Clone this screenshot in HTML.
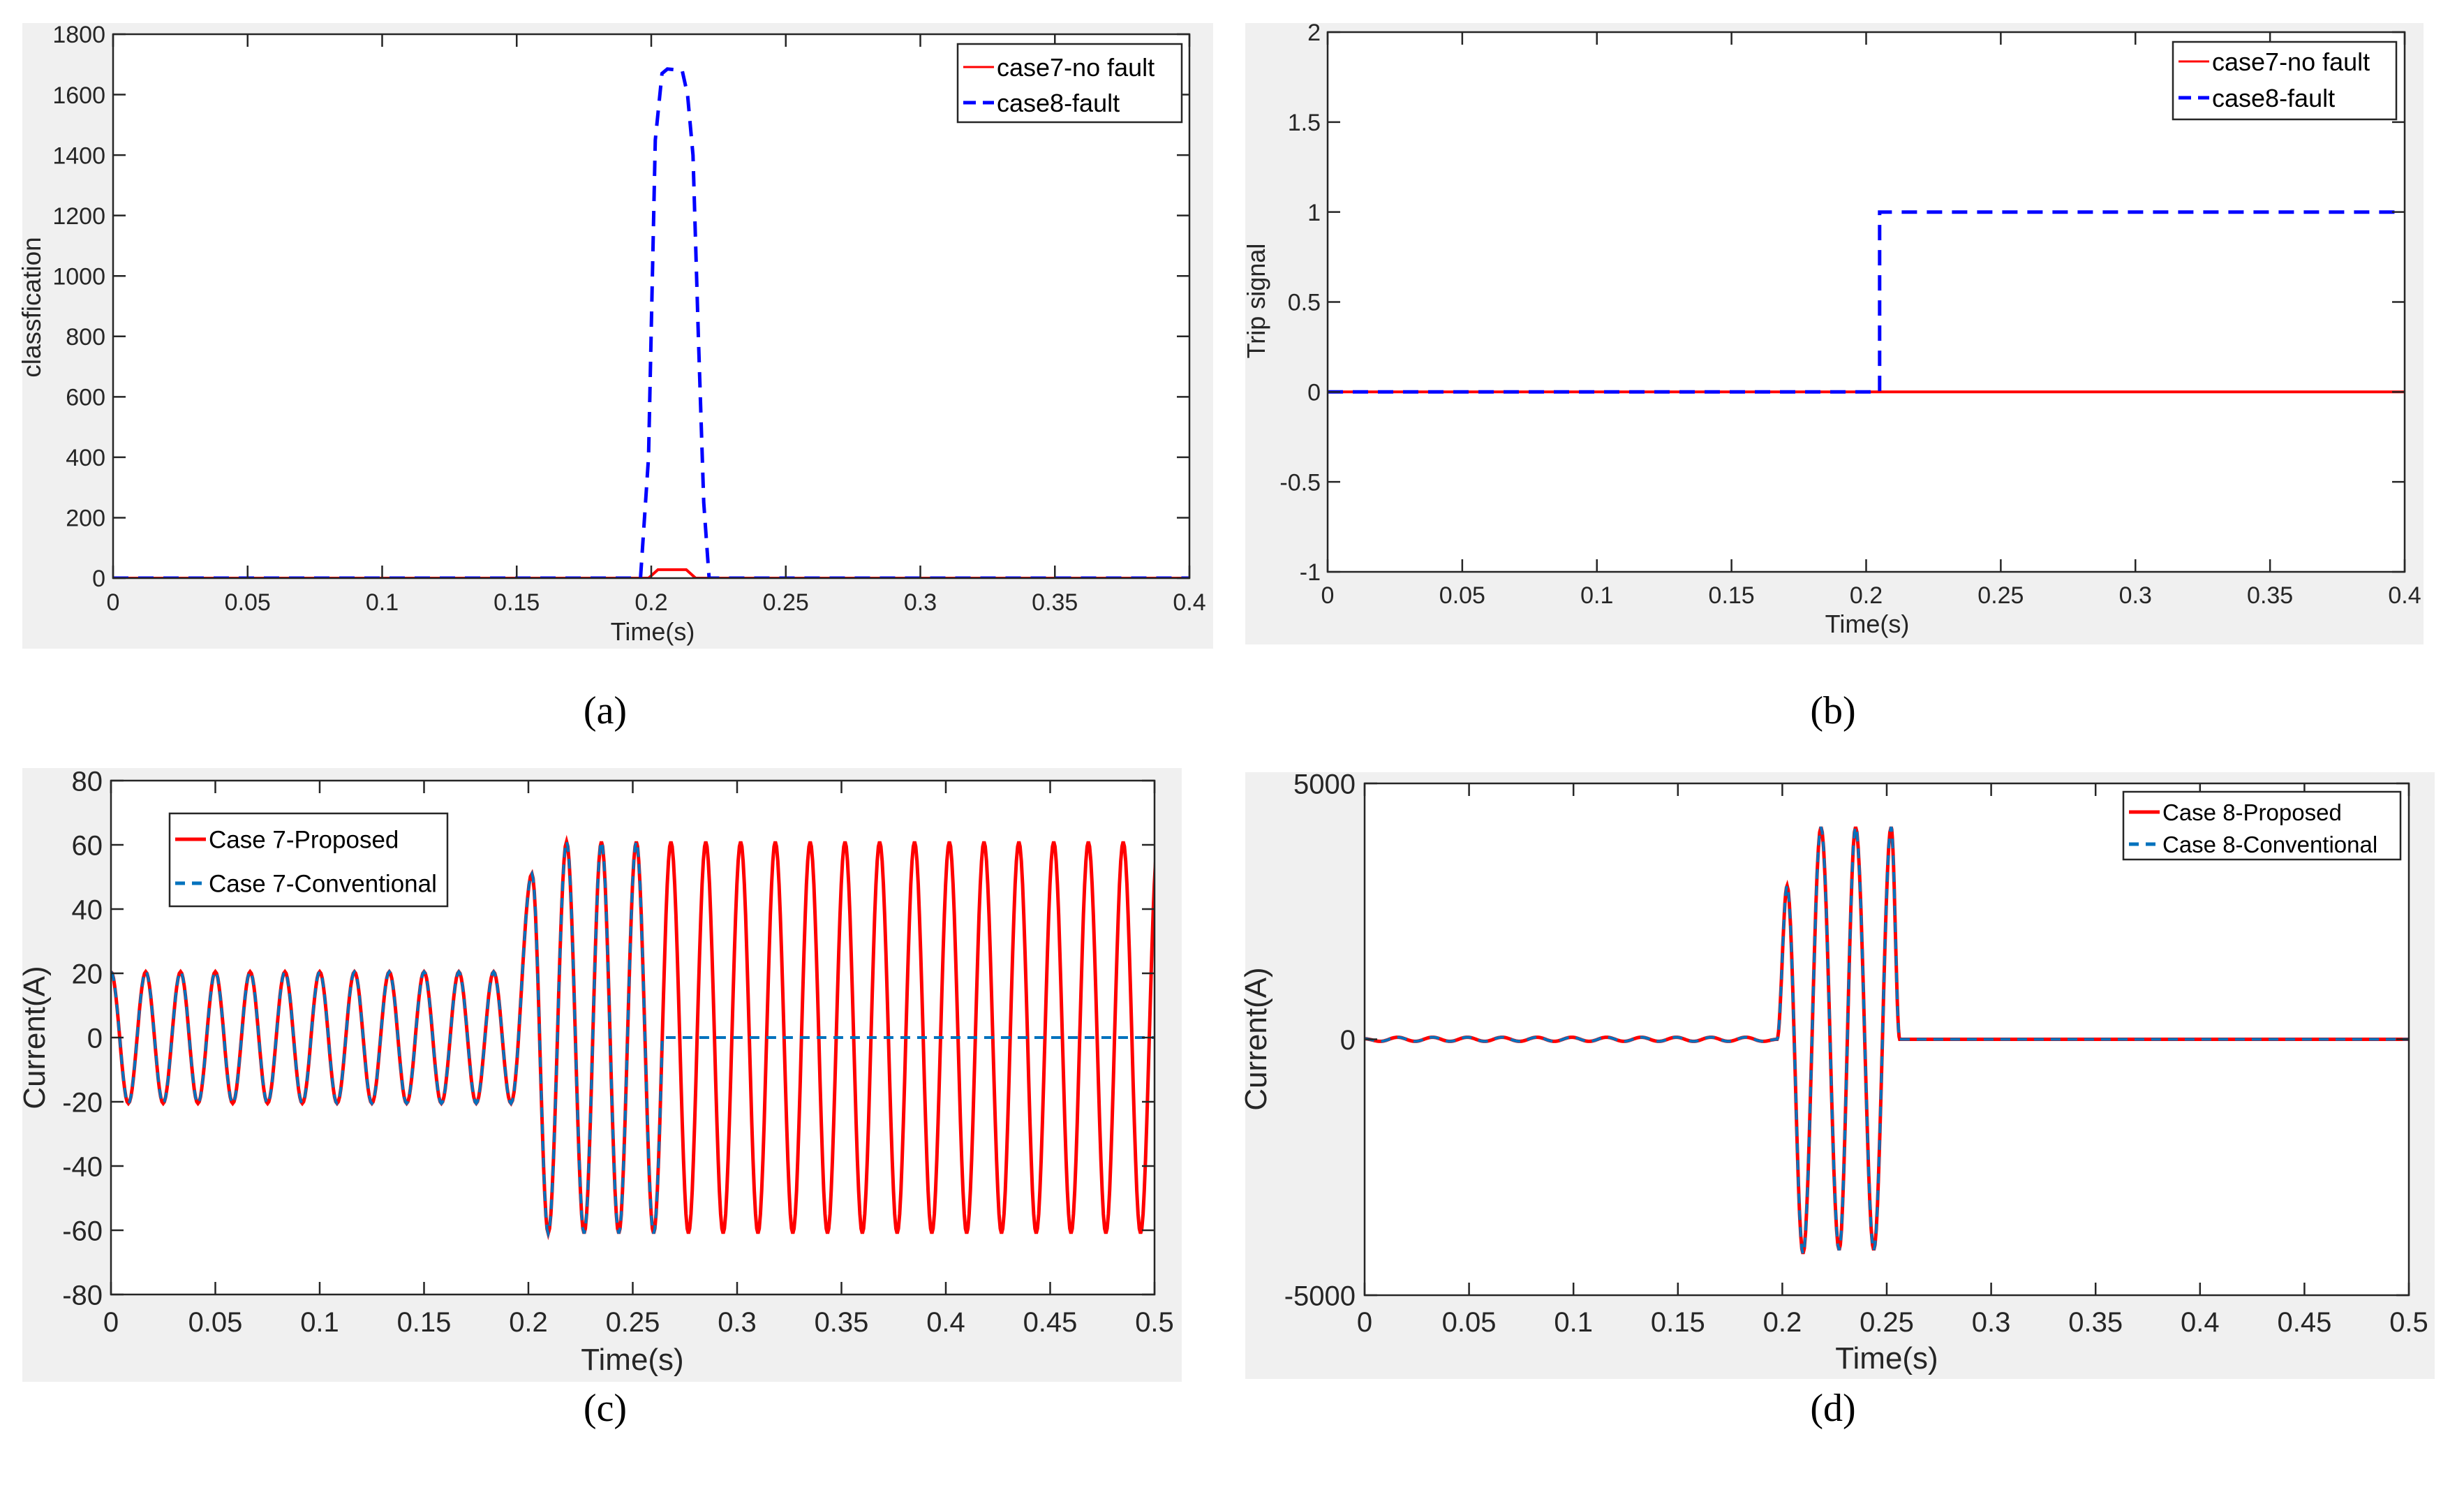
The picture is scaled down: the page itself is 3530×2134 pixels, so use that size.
<!DOCTYPE html>
<html><head><meta charset="utf-8"><style>
html,body{margin:0;padding:0;background:#fff;}
svg{display:block;font-family:"Liberation Sans",Arial,sans-serif;}
</style></head><body>
<svg id="fig" width="3530" height="2134" viewBox="0 0 3530 2134" xmlns="http://www.w3.org/2000/svg">
<rect x="0" y="0" width="3530" height="2134" fill="#fff"/>
<g id="root"></g>
</svg>
<script>
// ---------- Panel (a) data ----------
const aXTicks=[0,0.05,0.1,0.15,0.2,0.25,0.3,0.35,0.4];
const aYTicks=[0,200,400,600,800,1000,1200,1400,1600,1800];
const aRedT=[0,0.199,0.2025,0.213,0.2165,0.4];
const aRedV=[0,0,28,28,0,0];
const aBlueT=[0,0.196,0.199,0.2015,0.204,0.206,0.2115,0.2135,0.2155,0.2175,0.2195,0.2215,0.4];
const aBlueV=[0,0,400,1450,1670,1685,1680,1600,1400,800,250,0,0];
// ---------- Panel (b) data ----------
const bXTicks=[0,0.05,0.1,0.15,0.2,0.25,0.3,0.35,0.4];
const bYTicks=[-1,-0.5,0,0.5,1,1.5,2];
const bRedT=[0,0.4];
const bRedV=[0,0];
const bBlueT=[0,0.205,0.205,0.4];
const bBlueV=[0,0,1,1];
// ---------- Panel (c) data (extrema, joined by half-cosine) ----------
const cXTicks=[0,0.05,0.1,0.15,0.2,0.25,0.3,0.35,0.4,0.45,0.5];
const cYTicks=[-80,-60,-40,-20,0,20,40,60,80];
const cExtT=[0,0.00833,0.01667,0.025,0.03333,0.04167,0.05,0.05833,0.06667,0.075,0.08333,0.09167,0.1,0.10833,0.11667,0.125,0.13333,0.14167,0.15,0.15833,0.16667,0.175,0.18333,0.19167,
0.2017,0.2095,
0.2183,0.2267,0.235,0.2433,0.2517,0.26,0.2683,0.2767,0.285,0.2933,0.3017,0.31,0.3183,0.3267,0.335,0.3433,0.3517,0.36,0.3683,0.3767,0.385,0.3933,0.4017,0.41,0.4183,0.4267,0.435,0.4433,0.4517,0.46,0.4683,0.4767,0.485,0.4933,0.5017];
const cExtV=[20.5,-20.5,20.5,-20.5,20.5,-20.5,20.5,-20.5,20.5,-20.5,20.5,-20.5,20.5,-20.5,20.5,-20.5,20.5,-20.5,20.5,-20.5,20.5,-20.5,20.5,-20.5,
51,-61,
61,-61,61,-61,61,-61,61,-61,61,-61,61,-61,61,-61,61,-61,61,-61,61,-61,61,-61,61,-61,61,-61,61,-61,61,-61,61,-61,61,-61,61,-61,61];
const cBlueCut=0.2642;
// ---------- Panel (d) data ----------
const dXTicks=[0,0.05,0.1,0.15,0.2,0.25,0.3,0.35,0.4,0.45,0.5];
const dYTicks=[-5000,0,5000];
const dExtT=[0,0.0075,0.0158,0.0242,0.0325,0.0408,0.0492,0.0575,0.0658,0.0742,0.0825,0.0908,0.0992,0.1075,0.1158,0.1242,0.1325,0.1408,0.1492,0.1575,0.1658,0.1742,0.1825,0.1908,0.1975,
0.2023,0.2099,0.2185,0.2272,0.2351,0.2438,0.2521,0.2562,0.5];
const dExtV=[10,-40,40,-40,40,-40,40,-40,40,-40,40,-40,40,-40,40,-40,40,-40,40,-40,40,-40,40,-40,0,
3000,-4190,4150,-4120,4150,-4120,4150,0,0];

const NS="http://www.w3.org/2000/svg";
const root=document.getElementById('root');
function el(tag,attrs,parent){const e=document.createElementNS(NS,tag);for(const k in attrs)e.setAttribute(k,attrs[k]);(parent||root).appendChild(e);return e;}
function scale(d0,d1,p0,p1){return v=>p0+(v-d0)/(d1-d0)*(p1-p0);}
function fmt(v){return String(v);}

function linPath(T,V,sx,sy){let s='';for(let i=0;i<T.length;i++){s+=(i?'L':'M')+sx(T[i]).toFixed(1)+' '+sy(V[i]).toFixed(1);}return s;}
function cosSamples(T,V){const ts=[],vs=[];for(let i=0;i<T.length-1;i++){const n=14;for(let j=0;j<n;j++){const f=j/n;ts.push(T[i]+(T[i+1]-T[i])*f);vs.push(V[i]+(V[i+1]-V[i])*(1-Math.cos(Math.PI*f))/2);}}ts.push(T[T.length-1]);vs.push(V[V.length-1]);return {ts,vs};}

function panel(cfg){
  const g=el('g',{});
  
  
  const bg=el('rect',{x:cfg.bg[0],y:cfg.bg[1],width:cfg.bg[2]-cfg.bg[0],height:cfg.bg[3]-cfg.bg[1],fill:'#f0f0f0'},g);
  
  
  const [L,T,R,B]=cfg.ax;
  const pa=el('rect',{x:L,y:T,width:R-L,height:B-T,fill:'#fff'},g);
  
  
  const sx=scale(cfg.xr[0],cfg.xr[1],L,R), sy=scale(cfg.yr[0],cfg.yr[1],B,T);
  const clipId=cfg.name+'-clip';
  const cp=el('clipPath',{id:clipId},g);el('rect',{x:L,y:T,width:R-L,height:B-T},cp);
  const lines=el('g',{'clip-path':'url(#'+clipId+')'},g);
  cfg.draw(lines,sx,sy);
  const fr=el('rect',{x:L,y:T,width:R-L,height:B-T,fill:'none',stroke:'#262626','stroke-width':2.5},g);
  
  
  const tl=18;
  cfg.xt.forEach(v=>{const x=sx(v);
    el('line',{x1:x,y1:B,x2:x,y2:B-tl,stroke:'#262626','stroke-width':2.5},g);
    el('line',{x1:x,y1:T,x2:x,y2:T+tl,stroke:'#262626','stroke-width':2.5},g);
    const t=el('text',{x:x,y:cfg.xtY,'font-size':cfg.tf,'text-anchor':'middle',fill:'#262626'},g);t.textContent=fmt(v);
    
    
  });
  cfg.yt.forEach(v=>{const y=sy(v);
    el('line',{x1:L,y1:y,x2:L+tl,y2:y,stroke:'#262626','stroke-width':2.5},g);
    el('line',{x1:R,y1:y,x2:R-tl,y2:y,stroke:'#262626','stroke-width':2.5},g);
    const t=el('text',{x:cfg.ytX,y:y+cfg.tf*0.36,'font-size':cfg.tf,'text-anchor':'end',fill:'#262626'},g);t.textContent=fmt(v);
    
    
  });
  const xl=el('text',{x:cfg.xl[0],y:cfg.xl[1],'font-size':cfg.xlf,'text-anchor':'middle',fill:'#262626'},g);xl.textContent='Time(s)';
  
  
  const yl=el('text',{x:0,y:0,'font-size':cfg.ylf,'text-anchor':'middle',fill:'#262626',transform:'translate('+cfg.yl[0]+','+cfg.yl[1]+') rotate(-90)'},g);yl.textContent=cfg.ylabel;
  
  
  const lg=cfg.leg;
  const lgG=el('g',{},g);
  
  
  el('rect',{x:lg.box[0],y:lg.box[1],width:lg.box[2]-lg.box[0],height:lg.box[3]-lg.box[1],fill:'#fff',stroke:'#262626','stroke-width':2.5},lgG);
  lg.items.forEach((it,i)=>{
    const y=lg.ys[i];
    const e=el('g',{},lgG);
    
    
    el('line',{x1:lg.box[0]+8,y1:y,x2:lg.box[0]+52,y2:y,stroke:it.c,'stroke-width':it.w,'stroke-dasharray':it.d||'none'},e);
    const t=el('text',{x:lg.box[0]+56,y:y+lg.f*0.36,'font-size':lg.f,fill:'#000'},e);t.textContent=it.t;
  });
  const lab=el('text',{x:cfg.lab[0],y:cfg.lab[1],'font-size':56,'text-anchor':'middle','font-family':'"Liberation Serif",serif',fill:'#000'},g);lab.textContent=cfg.labT;
  
  
}

panel({name:'panel-a',bg:[32,33,1738,929],ax:[162,49,1704,828],xr:[0,0.4],yr:[0,1800],xt:aXTicks,yt:aYTicks,
  tf:34,xtY:874,ytX:151,xl:[935,917],xlf:36,yl:[58,440],ylf:37,ylabel:'classfication',
  leg:{box:[1372,63,1693,175],ys:[96,147],f:36,items:[{c:'#ff0000',w:3,t:'case7-no fault'},{c:'#0000ff',w:5,d:'18 10',t:'case8-fault'}]},
  lab:[867,1036],labT:'(a)',
  draw:(g,sx,sy)=>{
    const r=el('path',{d:linPath(aRedT,aRedV,sx,sy),fill:'none',stroke:'#ff0000','stroke-width':4},g);
    
    
    const b=el('path',{d:linPath(aBlueT,aBlueV,sx,sy),fill:'none',stroke:'#0000ff','stroke-width':5,'stroke-dasharray':'22 14'},g);
    
    
  }});

panel({name:'panel-b',bg:[1784,33,3472,923],ax:[1902,46,3445,819],xr:[0,0.4],yr:[-1,2],xt:bXTicks,yt:bYTicks,
  tf:34,xtY:864,ytX:1892,xl:[2675,906],xlf:36,yl:[1812,431],ylf:36,ylabel:'Trip signal',
  leg:{box:[3113,60,3433,171],ys:[88,140],f:36,items:[{c:'#ff0000',w:3,t:'case7-no fault'},{c:'#0000ff',w:5,d:'18 10',t:'case8-fault'}]},
  lab:[2626,1036],labT:'(b)',
  draw:(g,sx,sy)=>{
    const r=el('path',{d:linPath(bRedT,bRedV,sx,sy),fill:'none',stroke:'#ff0000','stroke-width':4},g);
    
    
    const b=el('path',{d:linPath(bBlueT,bBlueV,sx,sy),fill:'none',stroke:'#0000ff','stroke-width':5,'stroke-dasharray':'22 14'},g);
    
    
  }});

panel({name:'panel-c',bg:[32,1100,1693,1979],ax:[159,1118,1654,1854],xr:[0,0.5],yr:[-80,80],xt:cXTicks,yt:cYTicks,
  tf:40,xtY:1907,ytX:147,xl:[906,1962],xlf:44,yl:[64,1486],ylf:44,ylabel:'Current(A)',
  leg:{box:[243,1165,641,1298],ys:[1202,1265],f:35,items:[{c:'#ff0000',w:5,t:'Case 7-Proposed'},{c:'#0072bd',w:5,d:'14 10',t:'Case 7-Conventional'}]},
  lab:[867,2035],labT:'(c)',
  draw:(g,sx,sy)=>{
    const s=cosSamples(cExtT,cExtV);
    const r=el('path',{d:linPath(s.ts,s.vs,sx,sy),fill:'none',stroke:'#ff0000','stroke-width':5},g);
    
    
    const bt=[],bv=[];
    s.ts.forEach((t,i)=>{if(t<cBlueCut){bt.push(t);bv.push(s.vs[i]);}});
    bt.push(cBlueCut);bv.push(0);bt.push(0.5);bv.push(0);
    const b=el('path',{d:linPath(bt,bv,sx,sy),fill:'none',stroke:'#0072bd','stroke-width':4,'stroke-dasharray':'14 10'},g);
    
    
  }});

panel({name:'panel-d',bg:[1784,1106,3488,1975],ax:[1955,1122,3451,1855],xr:[0,0.5],yr:[-5000,5000],xt:dXTicks,yt:dYTicks,
  tf:40,xtY:1907,ytX:1942,xl:[2703,1960],xlf:44,yl:[1814,1488],ylf:44,ylabel:'Current(A)',
  leg:{box:[3042,1134,3439,1231],ys:[1163,1209],f:33,items:[{c:'#ff0000',w:5,t:'Case 8-Proposed'},{c:'#0072bd',w:5,d:'14 10',t:'Case 8-Conventional'}]},
  lab:[2626,2035],labT:'(d)',
  draw:(g,sx,sy)=>{
    const s=cosSamples(dExtT,dExtV);
    const r=el('path',{d:linPath(s.ts,s.vs,sx,sy),fill:'none',stroke:'#ff0000','stroke-width':5},g);
    
    
    const b=el('path',{d:linPath(s.ts,s.vs,sx,sy),fill:'none',stroke:'#0072bd','stroke-width':4,'stroke-dasharray':'14 10'},g);
    
    
  }});
</script>
</body></html>
